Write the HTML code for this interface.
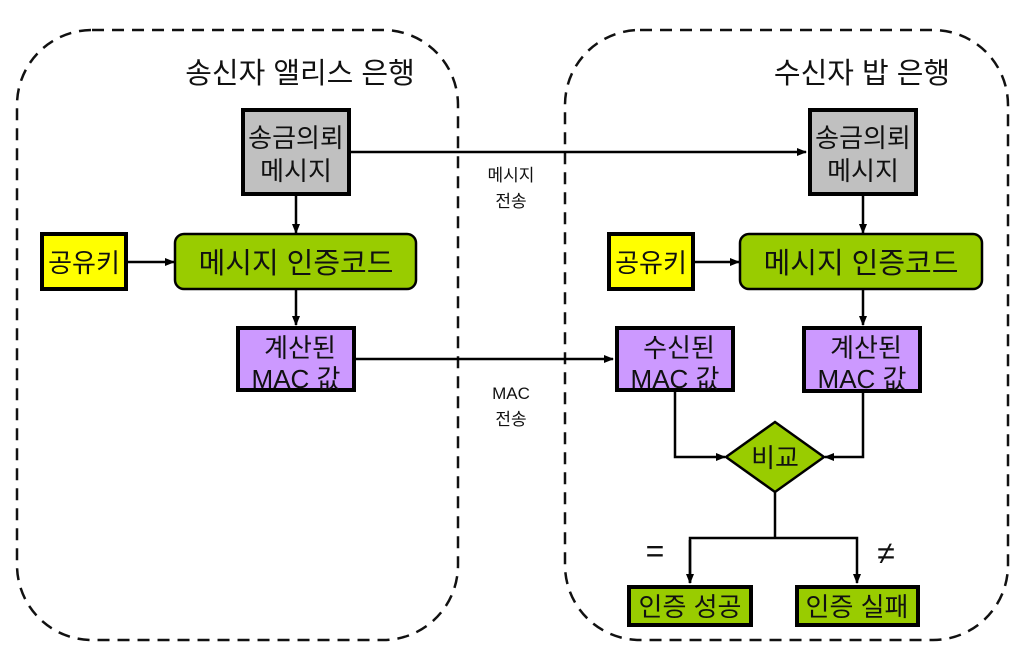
<!DOCTYPE html>
<html><head><meta charset="utf-8"><style>
body{margin:0;background:#fff;}
svg text{font-family:"Liberation Sans","Noto Sans CJK KR",sans-serif;fill:#111;}
</style></head><body>
<svg width="1023" height="657" viewBox="0 0 1023 657" xmlns="http://www.w3.org/2000/svg">
<defs><marker id="a" markerWidth="10" markerHeight="8" refX="9" refY="4" orient="auto" markerUnits="userSpaceOnUse"><path d="M0,0 L10,4 L0,8 z" fill="#000"/></marker></defs>
<g fill="none" stroke="#111" stroke-width="2.5" stroke-dasharray="12,8">
<rect x="17" y="30" width="441" height="610" rx="75"/>
<rect x="565" y="30" width="443" height="610" rx="75"/>
</g>
<text x="300" y="83" font-size="29" text-anchor="middle">송신자 앨리스 은행</text>
<text x="862" y="83" font-size="29" text-anchor="middle">수신자 밥 은행</text>
<g stroke="#000" stroke-width="2.5" fill="none">
<line x1="351" y1="152" x2="806" y2="152" marker-end="url(#a)"/>
<line x1="296" y1="196" x2="296" y2="233" marker-end="url(#a)"/>
<line x1="127" y1="262" x2="174" y2="262" marker-end="url(#a)"/>
<line x1="296" y1="290" x2="296" y2="325" marker-end="url(#a)"/>
<line x1="356" y1="359" x2="613" y2="359" marker-end="url(#a)"/>
<line x1="863" y1="196" x2="863" y2="233" marker-end="url(#a)"/>
<line x1="694" y1="262" x2="739" y2="262" marker-end="url(#a)"/>
<line x1="863" y1="290" x2="863" y2="325" marker-end="url(#a)"/>
<polyline points="675,391 675,457 725,457" marker-end="url(#a)"/>
<polyline points="863,393 863,457 825,457" marker-end="url(#a)"/>
<line x1="775" y1="492" x2="775" y2="538"/>
<polyline points="690,583 690,538 857,538 857,583" marker-end="url(#a)"/>
</g>
<line x1="690" y1="540" x2="690" y2="583" stroke="#000" stroke-width="2.5" marker-end="url(#a)"/>
<g stroke="#000" stroke-width="4">
<rect x="243" y="110" width="106" height="84" fill="#c0c0c0"/>
<rect x="810" y="110" width="106" height="84" fill="#c0c0c0"/>
<rect x="42" y="234" width="84" height="55" fill="#ffff00"/>
<rect x="609" y="234" width="84" height="55" fill="#ffff00"/>
<rect x="238" y="328" width="116" height="62" fill="#cc99ff"/>
<rect x="617" y="328" width="116" height="62" fill="#cc99ff"/>
<rect x="804" y="328" width="116" height="63" fill="#cc99ff"/>
<rect x="629" y="587" width="122" height="38" fill="#99cc00"/>
<rect x="797" y="587" width="121" height="38" fill="#99cc00"/>
</g>
<g stroke="#000" stroke-width="2.5" fill="#99cc00">
<rect x="175" y="234" width="241" height="55" rx="9"/>
<rect x="740" y="234" width="242" height="55" rx="9"/>
<polygon points="775,422 824,457 775,492 726,457"/>
</g>
<g font-size="26" text-anchor="middle">
<text x="296" y="147">송금의뢰</text><text x="296" y="180">메시지</text>
<text x="863" y="147">송금의뢰</text><text x="863" y="180">메시지</text>
<text x="84" y="272">공유키</text><text x="651" y="272">공유키</text>
<text x="296" y="273" font-size="29">메시지 인증코드</text>
<text x="861" y="273" font-size="29">메시지 인증코드</text>
<text x="300" y="357">계산된</text><text x="296" y="388">MAC 값</text>
<text x="679" y="357">수신된</text><text x="675" y="388">MAC 값</text>
<text x="866" y="357">계산된</text><text x="862" y="388">MAC 값</text>
<text x="775" y="467">비교</text>
<text x="690" y="616">인증 성공</text>
<text x="857" y="616">인증 실패</text>
<text x="655" y="562" font-size="32">=</text>
<text x="886" y="564" font-size="32">≠</text>
</g>
<g font-size="17" text-anchor="middle">
<text x="511" y="181">메시지</text><text x="511" y="207">전송</text>
<text x="511" y="399">MAC</text><text x="511" y="425">전송</text>
</g>
</svg>
</body></html>
